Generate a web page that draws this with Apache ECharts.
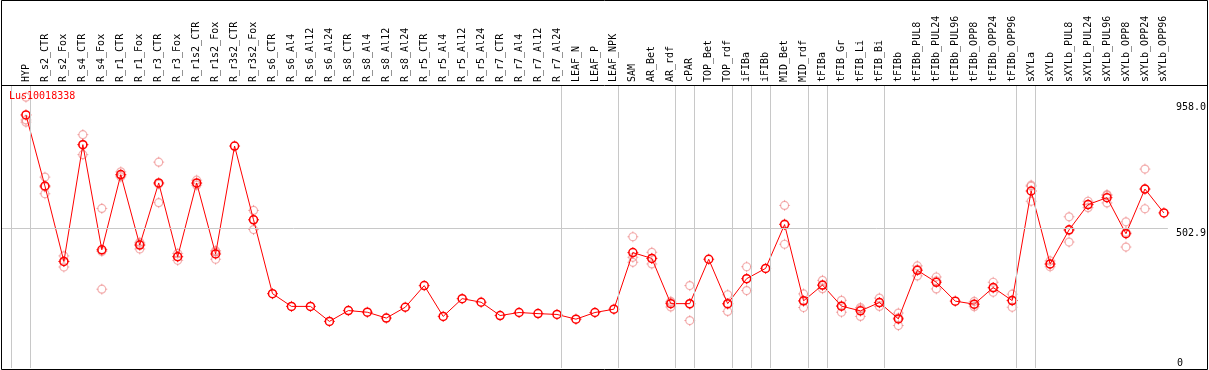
<!DOCTYPE html>
<html>
<head>
<meta charset="utf-8">
<script src="https://cdn.jsdelivr.net/npm/echarts@6/dist/echarts.min.js"></script>
<style>
html,body{margin:0;padding:0;background:#fff;}
#chart{width:1209px;height:370px;}
</style>
</head>
<body>
<div id="chart"></div>
<script>
const categories = ["HYP","R_s2_CTR","R_s2_Fox","R_s4_CTR","R_s4_Fox","R_r1_CTR","R_r1_Fox","R_r3_CTR","R_r3_Fox","R_r1s2_CTR","R_r1s2_Fox","R_r3s2_CTR","R_r3s2_Fox","R_s6_CTR","R_s6_Al4","R_s6_Al12","R_s6_Al24","R_s8_CTR","R_s8_Al4","R_s8_Al12","R_s8_Al24","R_r5_CTR","R_r5_Al4","R_r5_Al12","R_r5_Al24","R_r7_CTR","R_r7_Al4","R_r7_Al12","R_r7_Al24","LEAF_N","LEAF_P","LEAF_NPK","SAM","AR_Bet","AR_rdf","cPAR","TOP_Bet","TOP_rdf","iFIBa","iFIBb","MID_Bet","MID_rdf","tFIBa","tFIB_Gr","tFIB_Li","tFIB_Bi","tFIBb","tFIBb_PUL8","tFIBb_PUL24","tFIBb_PUL96","tFIBb_OPP8","tFIBb_OPP24","tFIBb_OPP96","sXYLa","sXYLb","sXYLb_PUL8","sXYLb_PUL24","sXYLb_PUL96","sXYLb_OPP8","sXYLb_OPP24","sXYLb_OPP96"];

const meanValues = [912,656,384,805,426,697,443,667,401,667,411,800,534,268,222,222,168,207,201,180,219,297,186,250,237,189,200,196,193,176,200,212,416,395,232,232,392,232,322,359,517,242,299,223,206,236,177,352,309,241,230,290,243,638,375,498,589,614,484,645,559];

const rep1 = [976,688,404,841,575,707,453,742,413,677,423,null,568,null,null,null,null,null,null,null,null,null,null,null,null,null,null,null,null,null,null,null,473,417,220,297,null,264,365,null,586,267,316,244,213,252,198,368,328,null,240,309,266,659,386,545,601,625,527,717,null];
const rep2 = [894,628,364,769,284,689,429,596,388,659,392,null,499,null,null,null,null,null,null,null,null,null,null,null,null,null,null,null,null,null,null,null,399,375,240,171,null,204,279,null,446,218,286,201,186,222,153,332,285,null,221,273,219,601,365,454,578,595,436,574,null];
const rep3 = [886,652,384,805,420,695,447,663,402,665,418,null,535,null,null,null,null,null,null,null,null,null,null,null,null,null,null,null,null,null,null,null,381,395,236,230,null,230,322,null,520,241,297,224,218,235,181,356,314,null,229,288,244,655,374,496,589,622,489,645,null];

const groupEnds = [-1,0,28,31,34,35,37,38,39,41,42,45,52,53,60];
const yTickValues = [0, 502.9, 958.0];
const titleText = "Lus10018338";

const MONO = "DejaVu Sans Mono";
const tickPath = 'path://M5.5,0 L5.5,2 M5.5,9 L5.5,11 M0,5.5 L2,5.5 M9,5.5 L11,5.5';
const REP_COLOR = 'rgba(235,120,120,0.7)';

const repData = [];
[rep1, rep2, rep3].forEach(arr => arr.forEach((v, i) => { if (v !== null) repData.push([i, v]); }));
const meanData = meanValues.map((v, i) => [i, v]);
const sepOffset = 0.237;

const chart = echarts.init(document.getElementById('chart'), null, {renderer: 'canvas'});
chart.setOption({
  animation: false,
  backgroundColor: '#fff',
  title: {
    text: titleText, left: 4, top: 86,
    textStyle: {color: '#ff0000', fontFamily: MONO, fontSize: 10, fontWeight: 'normal'}
  },
  grid: {left: 2, right: 39, top: 85, bottom: 2, containLabel: false},
  xAxis: [{
    type: 'value', position: 'top',
    min: -1.2632, max: 60.211,
    axisLine: {show: false},
    splitLine: {show: false},
    axisTick: {show: true, customValues: groupEnds.map(g => g + sepOffset), length: 85, lineStyle: {color: '#c8c8c8', width: 1}},
    axisLabel: {
      customValues: categories.map((c, i) => i),
      formatter: v => categories[Math.round(v)],
      rotate: 90, margin: 3,
      fontFamily: MONO, fontSize: 10, color: '#000'
    }
  }],
  yAxis: [{
    type: 'value', position: 'right', min: 0, max: 1020,
    axisLine: {show: false}, axisTick: {show: false}, splitLine: {show: false},
    axisLabel: {
      customValues: yTickValues.filter(v => v !== 0),
      formatter: v => v.toFixed(1),
      verticalAlign: 'top', align: 'left', margin: 8,
      fontFamily: MONO, fontSize: 10, color: '#000'
    }
  }, {
    type: 'value', position: 'right', min: 0, max: 1020,
    axisLine: {show: false}, axisTick: {show: false}, splitLine: {show: false},
    axisLabel: {
      customValues: yTickValues.filter(v => v === 0),
      formatter: v => String(v),
      verticalAlign: 'bottom', align: 'left', margin: 9,
      fontFamily: MONO, fontSize: 10, color: '#000'
    }
  }],
  graphic: [
    {type: 'rect', shape: {x: 1.5, y: 0.5, width: 1206, height: 369}, style: {fill: 'none', stroke: '#000', lineWidth: 1}, z: 100},
    {type: 'line', shape: {x1: 1.5, y1: 85.5, x2: 1207.5, y2: 85.5}, style: {stroke: '#000', lineWidth: 1}, z: 100}
  ],
  series: [{
    type: 'scatter', name: 'replicates', z: 2,
    data: repData,
    symbol: 'circle', symbolSize: 8,
    itemStyle: {color: 'rgba(0,0,0,0)', borderColor: REP_COLOR, borderWidth: 1.2},
    markLine: {
      silent: true, symbol: 'none', label: {show: false},
      lineStyle: {color: '#c8c8c8', width: 1, type: 'solid'},
      data: groupEnds.map(g => ({xAxis: g + sepOffset})).concat([{yAxis: yTickValues[1]}])
    }
  }, {
    type: 'scatter', name: 'replicate ticks', z: 2,
    data: repData,
    symbol: tickPath, symbolSize: 11,
    itemStyle: {color: 'rgba(0,0,0,0)', borderColor: REP_COLOR, borderWidth: 1}
  }, {
    type: 'line', name: titleText, z: 3,
    data: meanData,
    showAllSymbol: true,
    symbol: 'circle', symbolSize: 8,
    lineStyle: {color: '#ff0000', width: 1},
    itemStyle: {color: 'rgba(0,0,0,0)', borderColor: '#ff0000', borderWidth: 1.5}
  }, {
    type: 'scatter', name: 'mean ticks', z: 3,
    data: meanData,
    symbol: tickPath, symbolSize: 11,
    itemStyle: {color: 'rgba(0,0,0,0)', borderColor: '#ff0000', borderWidth: 1}
  }]
});
</script>
</body>
</html>
